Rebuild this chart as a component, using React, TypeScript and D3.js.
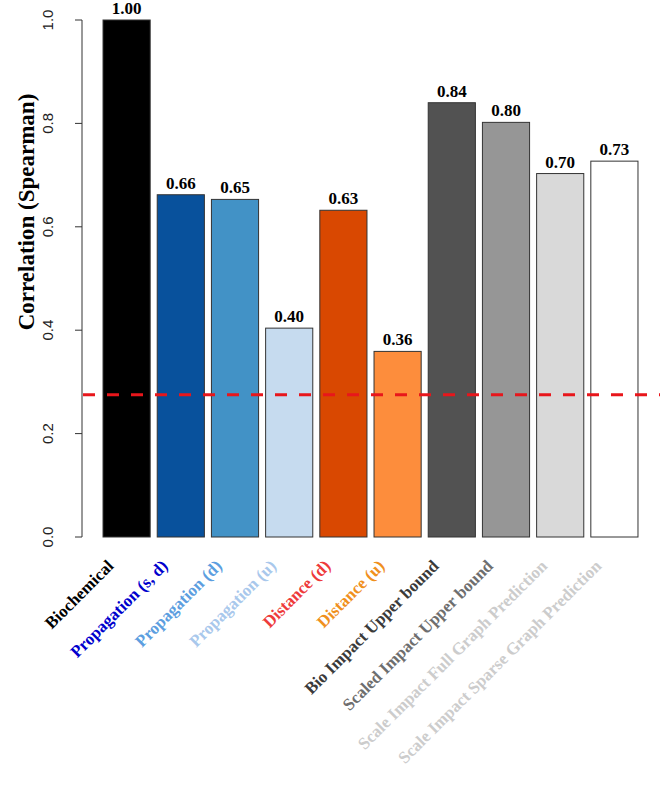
import React from "react";
import * as d3 from "d3";

const categories = [
  "Biochemical",
  "Propagation (s, d)",
  "Propagation (d)",
  "Propagation (u)",
  "Distance (d)",
  "Distance (u)",
  "Bio Impact Upper bound",
  "Scaled Impact Upper bound",
  "Scale Impact Full Graph Prediction",
  "Scale Impact Sparse Graph Prediction",
];
const values = [1.0, 0.662, 0.653, 0.404, 0.632, 0.359, 0.84, 0.802, 0.703, 0.727];
const valueLabels = ["1.00", "0.66", "0.65", "0.40", "0.63", "0.36", "0.84", "0.80", "0.70", "0.73"];
const barColors = ["#000000", "#08519c", "#4292c6", "#c6dbef", "#d94801", "#fd8d3c", "#525252", "#969696", "#d9d9d9", "#ffffff"];
const labelColors = ["#000000", "#0000cd", "#5c9ee0", "#a9c8ec", "#ee3b3b", "#f0901e", "#3a3a3a", "#6e6e6e", "#cccccc", "#cccccc"];
const yTicks = [0, 0.2, 0.4, 0.6, 0.8, 1.0];
const threshold = 0.275;

export default function App() {
  const W = 660, H = 793;
  const y = d3.scaleLinear().domain([0, 1]).range([537, 20]);
  const x = d3.scaleBand<string>().domain(categories).range([103 - 3.5, 638 + 3.5]).paddingInner(0.13).paddingOuter(0.065);
  const axisX = 82;
  return (
    <svg width={W} height={H} style={{ position: "absolute", left: 0, top: 0, background: "#fff" }}>
      <line x1={axisX} x2={axisX} y1={y(0)} y2={y(1)} stroke="#333" strokeWidth={1} />
      {yTicks.map((t) => (
        <g key={t}>
          <line x1={axisX - 7} x2={axisX} y1={y(t)} y2={y(t)} stroke="#333" strokeWidth={1} />
          <text
            transform={`translate(${53},${y(t)}) rotate(-90)`}
            textAnchor="middle"
            fontFamily="Liberation Sans, Arial, sans-serif"
            fontSize={15}
            fill="#222"
          >
            {t.toFixed(1)}
          </text>
        </g>
      ))}
      <text
        transform={`translate(34,${212}) rotate(-90)`}
        textAnchor="middle"
        fontFamily="Liberation Serif, Times New Roman, serif"
        fontWeight="bold"
        fontSize={23}
        fill="#000"
      >
        Correlation (Spearman)
      </text>
      {categories.map((c, i) => (
        <g key={c}>
          <rect
            x={x(c)!}
            y={y(values[i])}
            width={x.bandwidth()}
            height={y(0) - y(values[i])}
            fill={barColors[i]}
            stroke="#333"
            strokeWidth={1}
          />
          <text
            x={x(c)! + x.bandwidth() / 2}
            y={y(values[i]) - 6}
            textAnchor="middle"
            fontFamily="Liberation Serif, Times New Roman, serif"
            fontWeight="bold"
            fontSize={17}
            fill="#000"
          >
            {valueLabels[i]}
          </text>
          <text
            transform={`translate(${x(c)! + x.bandwidth() / 2 - 12},${567}) rotate(-45)`}
            textAnchor="end"
            fontFamily="Liberation Serif, Times New Roman, serif"
            fontWeight="bold"
            fontSize={17}
            fill={labelColors[i]}
          >
            {c}
          </text>
        </g>
      ))}
      <line x1={axisX + 1} x2={W} y1={y(threshold)} y2={y(threshold)} stroke="#e8161b" strokeWidth={3} strokeDasharray="12 12" />
    </svg>
  );
}
